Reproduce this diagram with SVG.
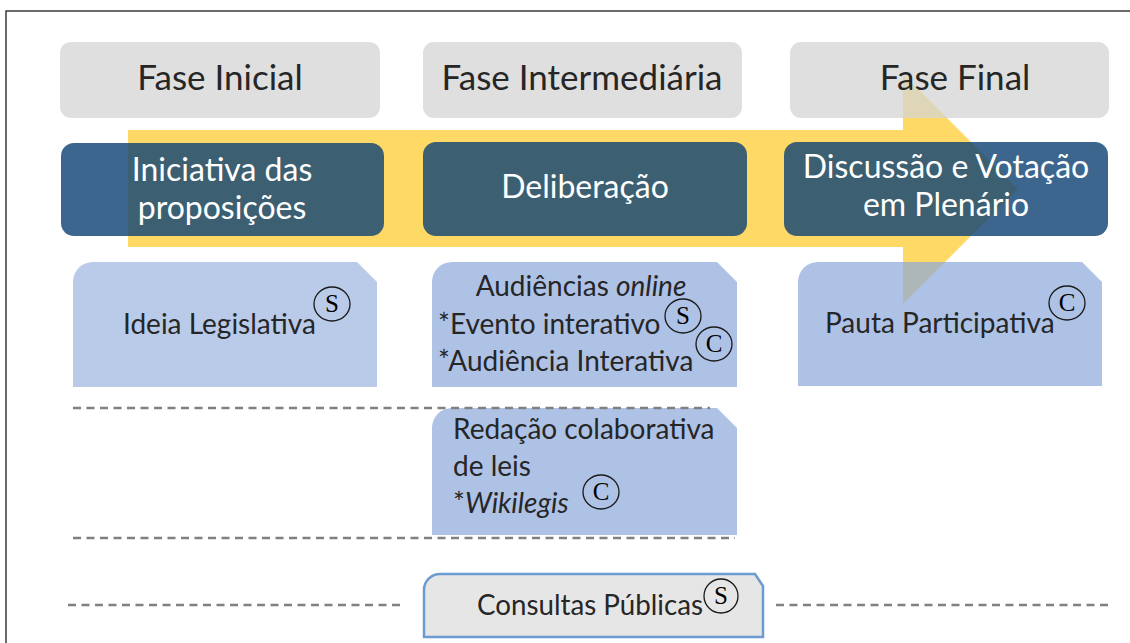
<svg xmlns="http://www.w3.org/2000/svg" width="1130" height="643" viewBox="0 0 1130 643">
<style>
.hdr{fill:#D4D4D4;fill-opacity:.75}
.hdrt{font-family:Lato,"Open Sans",sans-serif;font-size:35px;fill:#262626;text-anchor:middle}
.stage{fill:#114475;fill-opacity:.82}
.staget{font-family:Lato,"Open Sans",sans-serif;font-size:32px;fill:#FFFFFF;text-anchor:middle}
.pale{fill:#8CA8DB;fill-opacity:.7}
.palet{font-family:Lato,"Open Sans",sans-serif;font-size:28px;fill:#262626}
.badge{fill:none;stroke:#1a1a1a;stroke-width:1.3}
.badget{font-family:"Liberation Serif",serif;font-size:25px;fill:#000;text-anchor:middle}
.sep{stroke:#808080;stroke-width:2.5;stroke-dasharray:8 5.5;fill:none}
</style>
<rect width="1130" height="643" fill="#FFFFFF"/>
<path d="M6,643 V11 H1130" fill="none" stroke="#3a3a3a" stroke-width="1.5"/>

<g id="arrow">
<polygon points="128,130 903,130 903,74 1018,189 903,304 903,247 128,247" fill="#FFD966"/>
</g>

<g id="fase-inicial">
<rect class="hdr" x="60" y="42" width="320" height="76" rx="11"/>
<text class="hdrt" x="220" y="90">Fase Inicial</text>
</g>
<g id="fase-intermediaria">
<rect class="hdr" x="423" y="42" width="319" height="76" rx="11"/>
<text class="hdrt" x="582" y="90">Fase Intermediária</text>
</g>
<g id="fase-final">
<rect class="hdr" x="790" y="42" width="319" height="76" rx="11"/>
<text class="hdrt" x="955" y="90">Fase Final</text>
</g>

<g id="iniciativa">
<rect class="stage" x="61" y="143" width="323" height="93" rx="13"/>
<text class="staget" x="222" y="181">Iniciativa das</text>
<text class="staget" x="222" y="219">proposições</text>
</g>
<g id="deliberacao">
<rect class="stage" x="423" y="142" width="324" height="94" rx="13"/>
<text class="staget" x="585" y="198">Deliberação</text>
</g>
<g id="discussao">
<rect class="stage" x="784" y="142" width="324" height="94" rx="13"/>
<text class="staget" x="946" y="178">Discussão e Votação</text>
<text class="staget" x="946" y="216">em Plenário</text>
</g>

<g id="ideia-legislativa">
<path class="pale" style="fill-opacity:.6" d="M73,387 V282 A20,20 0 0 1 93,262 H357 L377,282 V387 Z"/>
<text class="palet" x="123" y="334">Ideia Legislativa</text>
<ellipse class="badge" cx="332" cy="304" rx="18" ry="17"/>
<text class="badget" x="332" y="312">S</text>
</g>

<g id="audiencias-online">
<path class="pale" d="M432,387 V282 A20,20 0 0 1 452,262 H717 L737,282 V387 Z"/>
<text class="palet" x="581" y="296" text-anchor="middle">Audiências <tspan font-style="italic">online</tspan></text>
<text class="palet" x="438" y="334">*Evento interativo</text>
<text class="palet" x="438" y="371">*Audiência Interativa</text>
<ellipse class="badge" cx="683" cy="316" rx="18" ry="17"/>
<text class="badget" x="683" y="324">S</text>
<ellipse class="badge" cx="714" cy="344" rx="18" ry="17"/>
<text class="badget" x="714" y="352">C</text>
</g>

<g id="pauta-participativa">
<path class="pale" d="M798,386 V282 A20,20 0 0 1 818,262 H1082 L1102,282 V386 Z"/>
<text class="palet" x="825" y="333">Pauta Participativa</text>
<ellipse class="badge" cx="1067" cy="303" rx="18" ry="17"/>
<text class="badget" x="1067" y="311">C</text>
</g>

<g id="redacao-colaborativa">
<path class="pale" d="M432,535 V428 A20,20 0 0 1 452,408 H717 L737,428 V535 Z"/>
<text class="palet" x="453" y="439">Redação colaborativa</text>
<text class="palet" x="453" y="476">de leis</text>
<text class="palet" x="453" y="513">*<tspan font-style="italic">Wikilegis</tspan></text>
<ellipse class="badge" cx="601" cy="492" rx="18" ry="17"/>
<text class="badget" x="601" y="500">C</text>
</g>

<g id="consultas-publicas">
<path d="M424,637 V590 A16,16 0 0 1 440,574 H755 L763,586 V637 Z" fill="#E6E6E6" stroke="#6C9BD2" stroke-width="2.5"/>
<text class="palet" x="477" y="615" font-size="25" textLength="226" lengthAdjust="spacingAndGlyphs">Consultas Públicas</text>
<ellipse class="badge" cx="721" cy="596" rx="17" ry="17"/>
<text class="badget" x="721" y="604">S</text>
</g>

<g id="connectors">
<line class="sep" x1="73" y1="408" x2="710" y2="408"/>
<line class="sep" x1="73" y1="538" x2="735" y2="538"/>
<line class="sep" x1="68" y1="605" x2="402" y2="605"/>
<line class="sep" x1="776" y1="605" x2="1108" y2="605"/>
</g>
</svg>
